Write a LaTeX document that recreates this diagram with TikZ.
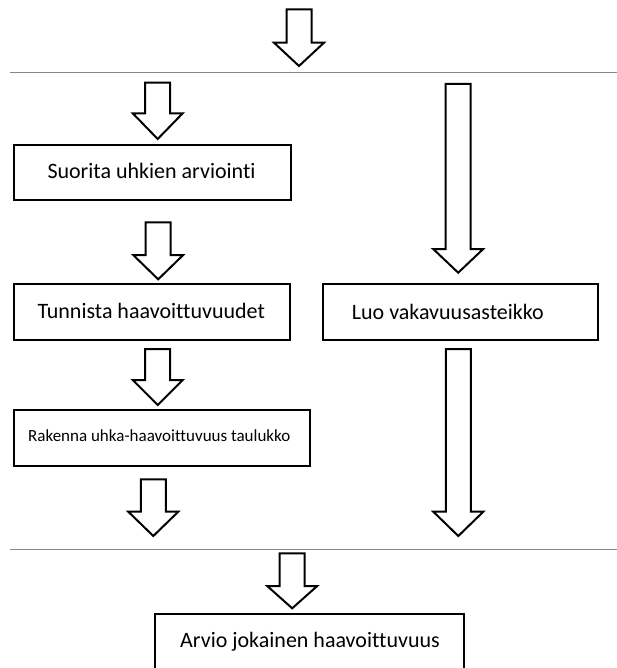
\documentclass[tikz,border=0pt]{standalone}
\usepackage{fontspec}
\setmainfont{Carlito}[Ligatures=NoCommon]
\begin{document}
\begin{tikzpicture}[x=1pt,y=-1pt,
  stagebox/.style={draw=black,line width=2.2pt,fill=white,rectangle,inner sep=0pt},
  boxtext/.style={anchor=west,inner sep=0pt,font=\fontsize{22}{26}\selectfont},
  smalltext/.style={anchor=west,inner sep=0pt,font=\fontsize{17}{20}\selectfont},
  hollow/.style={draw=black,line width=2pt,fill=white,line join=miter},
  divider/.style={draw=black!47,line width=1.6pt}]
\useasboundingbox (0,0) rectangle (617,668);

% block arrow: centre x, top y, shoulder y, tip y
\newcommand\blockarr[4]{%
  \path[hollow] (#1-12.5,#2) -- (#1+12.5,#2) -- (#1+12.5,#3) -- (#1+25,#3)
    -- (#1,#4) -- (#1-25,#3) -- (#1-12.5,#3) -- cycle;}

% phase dividers
\coordinate (d1a) at (10,72.7);  \coordinate (d1b) at (617,72.7);
\coordinate (d2a) at (10,549.3); \coordinate (d2b) at (617,549.3);
\draw[divider] (d1a) -- (d1b);
\draw[divider] (d2a) -- (d2b);

% boxes
\node[stagebox,minimum width=277,minimum height=55] (b1) at (152.5,172.5) {};
\node[boxtext] (t1) at (47.3,170.5) {Suorita uhkien arviointi};

\node[stagebox,minimum width=276,minimum height=56] (b2) at (152,312.3) {};
\node[boxtext] (t2) at (37.3,310.5) {Tunnista haavoittuvuudet};

\node[stagebox,minimum width=296,minimum height=56] (b3) at (162,438) {};
\node[smalltext] (t3) at (28,435.5) {Rakenna uhka-haavoittuvuus taulukko};

\node[stagebox,minimum width=275.6,minimum height=56] (b4) at (460.5,312.3) {};
\node[boxtext] (t4) at (351.7,311.5) {Luo vakavuusasteikko};

\node[stagebox,minimum width=309,minimum height=80] (b5) at (309.5,654.3) {};
\node[font=\fontsize{22}{26}\selectfont,inner sep=0pt] (t5) at (310,641.5) {Arvio jokainen haavoittuvuus};

% block arrows
\blockarr{299}{9.3}{42.7}{66}
\blockarr{157.7}{82.7}{113.3}{139}
\blockarr{158.2}{222.3}{255}{279.3}
\blockarr{157.7}{349}{380}{405}
\blockarr{153.3}{479.3}{511.7}{536}
\blockarr{458.2}{84}{249}{272.7}
\blockarr{458.3}{349}{511.7}{536}
\blockarr{292.2}{553.3}{586}{608.3}
\end{tikzpicture}
\end{document}
